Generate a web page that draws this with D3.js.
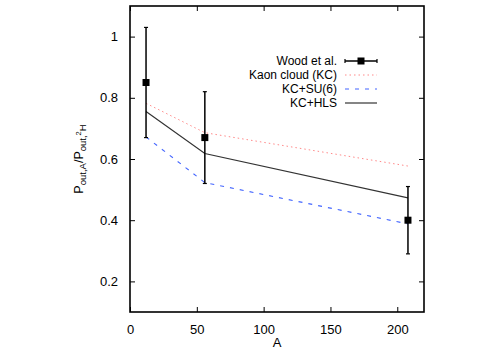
<!DOCTYPE html>
<meta charset="utf-8">
<head>
<script src="https://d3js.org/d3.v7.min.js"></script>
<style>
    body { margin: 0; background: #fff; }
    text { font-family: "Liberation Sans", Arial, sans-serif; fill: #000; }
    .tick text { font-size: 13px; }
    .legend text { font-size: 12px; }
</style>
</head>
<body>
<svg id="chart" width="499" height="353"></svg>
<script>
    // nuclei: C, Fe, Pb
    var massNumbers = [12, 56, 208];
    // Wood et al. data
    var woodValues = [0.85, 0.67, 0.40];
    var woodErrors = [0.18, 0.15, 0.11];
    // model curves
    var kaonCloud = [0.782, 0.686, 0.577];
    var kcSu6 = [0.672, 0.523, 0.388];
    var kcHls = [0.755, 0.618, 0.473];
    var xTicks = [0, 50, 100, 150, 200];
    var yTicks = [0.2, 0.4, 0.6, 0.8, 1];

    var svg = d3.select("#chart");
    // (note: "top" is a reserved window property, so use plot* names)
    var plotLeft = 130, plotRight = 424, plotTop = 6, plotBottom = 312;

    var x = d3.scaleLinear().domain([0, 220]).range([plotLeft, plotRight]);
    var y = d3.scaleLinear().domain([0.1, 1.1]).range([plotBottom, plotTop]);

    // axes, ticks inward plus mirrored
    svg.append("g").attr("transform", "translate(0," + plotBottom + ")")
      .call(d3.axisBottom(x).tickValues(xTicks).tickSizeInner(-5).tickSizeOuter(0).tickPadding(13).tickFormat(d3.format("d")))
      .call(function(g) { g.select(".domain").remove(); });
    svg.append("g").attr("transform", "translate(0," + plotTop + ")")
      .call(d3.axisTop(x).tickValues(xTicks).tickSizeInner(-5).tickSizeOuter(0).tickFormat(""))
      .call(function(g) { g.select(".domain").remove(); });
    svg.append("g").attr("transform", "translate(" + plotLeft + ",0)")
      .call(d3.axisLeft(y).tickValues(yTicks).tickSizeInner(-5).tickSizeOuter(0).tickPadding(12).tickFormat(function(d) { return d === 1 ? "1" : d3.format(".1f")(d); }))
      .call(function(g) { g.select(".domain").remove(); });
    svg.append("g").attr("transform", "translate(" + plotRight + ",0)")
      .call(d3.axisRight(y).tickValues(yTicks).tickSizeInner(-5).tickSizeOuter(0).tickFormat(""))
      .call(function(g) { g.select(".domain").remove(); });
    svg.selectAll(".tick line").attr("stroke", "#000");

    svg.append("rect")
      .attr("x", plotLeft).attr("y", plotTop)
      .attr("width", plotRight - plotLeft).attr("height", plotBottom - plotTop)
      .attr("fill", "none").attr("stroke", "#000").attr("stroke-width", 1.6);

    // model lines
    var line = d3.line()
      .x(function(d, i) { return x(massNumbers[i]); })
      .y(function(d) { return y(d); });

    var series = [
      { name: "Kaon cloud (KC)", values: kaonCloud, color: "#ff8a8a", dash: "1.5,3", width: 1 },
      { name: "KC+SU(6)", values: kcSu6, color: "#4466ff", dash: "4,6", width: 1.1 },
      { name: "KC+HLS", values: kcHls, color: "#333", dash: null, width: 1.2 }
    ];

    series.forEach(function(s) {
      svg.append("path")
        .attr("d", line(s.values))
        .attr("fill", "none")
        .attr("stroke", s.color)
        .attr("stroke-width", s.width)
        .attr("stroke-dasharray", s.dash);
    });

    // data with error bars
    var data = svg.append("g");
    massNumbers.forEach(function(a, i) {
      var cx = x(a);
      var lo = y(woodValues[i] - woodErrors[i]), hi = y(woodValues[i] + woodErrors[i]);
      data.append("line").attr("x1", cx).attr("x2", cx).attr("y1", lo).attr("y2", hi)
        .attr("stroke", "#000").attr("stroke-width", 1.5);
      [lo, hi].forEach(function(yy) {
        data.append("line").attr("x1", cx - 2).attr("x2", cx + 2).attr("y1", yy).attr("y2", yy)
          .attr("stroke", "#000").attr("stroke-width", 1.2);
      });
      data.append("rect").attr("x", cx - 3.5).attr("y", y(woodValues[i]) - 3.5)
        .attr("width", 7).attr("height", 7).attr("fill", "#000");
    });

    // legend
    var legend = svg.append("g").attr("class", "legend");
    var rowY = [61, 75, 89, 103];
    var labels = ["Wood et al."].concat(series.map(function(s) { return s.name; }));
    labels.forEach(function(lab, i) {
      legend.append("text").attr("x", 337).attr("y", rowY[i]).attr("dy", "0.35em")
        .attr("text-anchor", "end").text(lab);
    });
    legend.append("line").attr("x1", 345).attr("x2", 377).attr("y1", rowY[0]).attr("y2", rowY[0])
      .attr("stroke", "#000").attr("stroke-width", 1.5);
    [345, 377].forEach(function(xx) {
      legend.append("line").attr("x1", xx).attr("x2", xx).attr("y1", rowY[0] - 2).attr("y2", rowY[0] + 2)
        .attr("stroke", "#000").attr("stroke-width", 1.2);
    });
    legend.append("rect").attr("x", 361 - 3.5).attr("y", rowY[0] - 3.5).attr("width", 7).attr("height", 7).attr("fill", "#000");
    series.forEach(function(s, i) {
      legend.append("line").attr("x1", 345).attr("x2", 377).attr("y1", rowY[i + 1]).attr("y2", rowY[i + 1])
        .attr("stroke", s.color).attr("stroke-width", s.width).attr("stroke-dasharray", s.dash);
    });

    // axis titles
    svg.append("text").attr("x", 277).attr("y", 347).attr("text-anchor", "middle")
      .style("font-size", "13px").text("A");

    var yl = svg.append("text")
      .attr("transform", "translate(83," + ((plotTop + plotBottom) / 2) + ") rotate(-90)")
      .attr("text-anchor", "middle").style("font-size", "12.5px");
    yl.append("tspan").text("P");
    yl.append("tspan").attr("baseline-shift", "-25%").style("font-size", "9.5px").text("out,A");
    yl.append("tspan").text("/P");
    yl.append("tspan").attr("baseline-shift", "-25%").style("font-size", "9.5px").text("out,");
    yl.append("tspan").attr("baseline-shift", "20%").style("font-size", "7.5px").text("2");
    yl.append("tspan").attr("baseline-shift", "-25%").style("font-size", "9.5px").text("H");
</script>
</body>
